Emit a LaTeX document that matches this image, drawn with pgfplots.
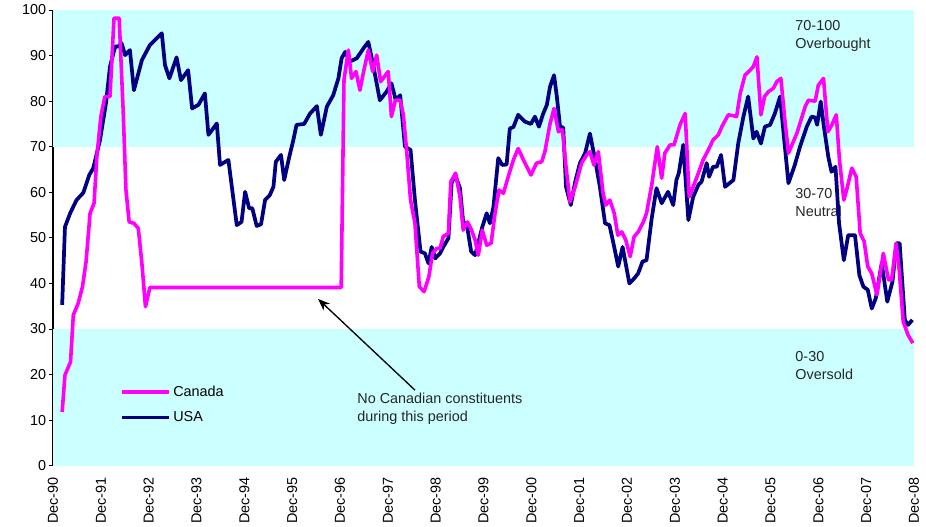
\documentclass[border=0pt]{standalone}
\usepackage{pgfplots}
\pgfplotsset{compat=1.18}
\usepackage{fontspec}
\setmainfont{Liberation Sans}
\usetikzlibrary{arrows.meta}
\definecolor{band}{HTML}{CCFFFF}
\definecolor{canada}{HTML}{FF00FF}
\definecolor{usa}{HTML}{000080}

\begin{document}
\begin{tikzpicture}
\useasboundingbox (-39.75pt,-45.2pt) rectangle (654.75pt,349.3pt);
\begin{axis}[
  at={(0,0)}, anchor=south west,
  scale only axis, width=645.75pt, height=341.8pt,
  xmin=0, xmax=216, ymin=0, ymax=100,
  axis lines*=left,
  x axis line style={draw=black!55, line width=0.8pt},
  y axis line style={draw=black, line width=0.8pt},
  font=\fontsize{10.8}{13.5}\selectfont,
  /pgf/number format/assume math mode=true,
  ytick={0,10,...,100},
  ytick style={draw=black, line width=0.6pt},
  tick align=outside, major tick length=3pt,
  xtick={0,12,...,216},
  xtick style={draw=none},
  xticklabels={Dec-90,Dec-91,Dec-92,Dec-93,Dec-94,Dec-95,Dec-96,Dec-97,Dec-98,Dec-99,Dec-00,Dec-01,Dec-02,Dec-03,Dec-04,Dec-05,Dec-06,Dec-07,Dec-08},
  xticklabel style={rotate=90, anchor=east, inner ysep=1pt, inner xsep=5.5pt},
  yticklabel style={inner sep=2pt},
  legend style={draw=none, fill=none, at={(axis cs:16.8,18.2)}, anchor=north west,
    row sep=6pt, inner sep=0pt, font=\fontsize{10.8}{13.5}\selectfont,
    /tikz/every even column/.append style={column sep=0pt}},
  legend cell align=left,
  reverse legend,
  legend image code/.code={\draw[#1] (0pt,0pt) -- (35pt,0pt);},
]
\fill[band] (axis cs:0,0) rectangle (axis cs:216,30);
\fill[band] (axis cs:0,70) rectangle (axis cs:216,100);

\node[anchor=north west, align=left, inner sep=0pt, text=black!85] at (axis cs:186.2,97.8) {70-100\\Overbought};
\node[anchor=north west, align=left, inner sep=0pt, text=black!85] at (axis cs:186.2,60.9) {30-70\\Neutral};
\node[anchor=north west, align=left, inner sep=0pt, text=black!85] at (axis cs:186.2,25.2) {0-30\\Oversold};
\node[anchor=north west, align=left, inner sep=0pt, text=black!85] at (axis cs:76.3,15.9) {No Canadian constituents\\during this period};
\draw[line width=1pt, -{Stealth[length=9pt, width=7pt]}] (axis cs:90.8,16.6) -- (axis cs:66.5,36.6);

\addplot[usa, line width=2.8pt, line join=round] coordinates {
(2.3,35.3) (3.0,52.4) (4.3,55.4) (5.9,58.3) (7.6,59.9) (9.1,63.8) (10.1,65.3) (11.8,71.5) (13.3,79.6) (14.3,87.6) (15.6,92) (16.4,92) (17.2,92.7) (18.1,90.1) (19.3,91.2) (20.3,82.4) (22.3,89) (24.3,92.3) (27.3,94.9) (28.1,87.9) (29.2,85) (31.0,89.6) (32.1,84.6) (33.9,86.8) (34.9,78.4) (36.5,79.2) (38.1,81.7) (39.0,72.6) (41.1,75.1) (41.9,66) (44.0,67.1) (46.1,52.8) (47.3,53.5) (48.2,60.1) (49.2,56.5) (50.0,56.5) (51.1,52.6) (52.2,53) (53.2,58.3) (54.4,59.4) (55.3,61.2) (55.9,66.7) (57.2,68.2) (58.0,62.7) (59.2,67.5) (60.3,71.5) (61.1,74.8) (63.0,75) (64.5,77.3) (66.2,78.9) (67.2,72.6) (68.7,78.8) (70.3,81.3) (71.6,85) (72.4,89.4) (73.3,90.8) (74.5,88.7) (76.2,89.4) (77.9,91.6) (79.1,93) (80.4,87.6) (82.0,80.2) (83.7,82.1) (84.9,83.9) (86.0,80.2) (87.1,81.3) (88.3,70) (89.7,69.3) (90.8,58.3) (92.2,47) (93.3,46.6) (94.2,44.4) (95.0,48) (95.9,45.5) (97.1,46.6) (97.9,48) (99.2,49.9) (100.0,62) (100.9,63.8) (102.1,60.9) (102.9,53.5) (103.8,53) (104.9,47) (105.9,46.2) (107.1,50.3) (107.7,52.4) (108.8,55.4) (109.6,53.2) (110.5,56.8) (111.7,67.5) (112.7,66) (113.8,66.1) (114.6,74) (115.5,74.3) (116.7,77) (118.4,75.5) (119.9,75) (120.9,76.6) (121.9,74.4) (123.0,77.3) (123.9,79.2) (124.7,83.2) (125.7,85.7) (126.4,81) (127.2,74.4) (128.0,74.2) (128.7,61.2) (129.9,57.2) (131.0,62.3) (132.2,66.4) (133.5,68.6) (134.7,72.9) (136.0,67.1) (137.2,61.2) (138.5,53.2) (139.6,52.8) (140.6,48.8) (141.8,43.7) (142.9,48) (144.6,40) (145.8,41.1) (146.8,42.2) (147.9,44.8) (148.9,45.1) (150.2,54.3) (151.4,60.9) (152.7,57.6) (154.3,60.1) (155.6,57.2) (156.4,62.7) (157.0,64.2) (158.1,70.4) (159.4,53.9) (160.6,59) (161.9,61.6) (162.7,62.3) (164.0,66.4) (164.6,63.4) (165.6,65.6) (166.5,65.6) (167.6,68.2) (168.6,61.2) (170.7,62.7) (171.9,70.7) (173.2,76.6) (174.4,81) (175.7,71.8) (176.5,73.3) (177.6,70.7) (178.6,74.4) (179.9,74.8) (181.1,77.3) (182.4,81) (184.5,62) (186.1,66) (187.4,70) (189.1,74.4) (190.3,76.6) (191.2,76.4) (191.7,74.8) (192.6,79.9) (193.4,74.4) (194.5,67.8) (195.3,64.5) (196.3,65.6) (197.2,53.2) (198.4,45.1) (199.5,50.6) (201.2,50.6) (202.3,41.8) (203.3,39.3) (204.4,38.6) (205.4,34.5) (206.4,36.7) (207.9,44.4) (209.3,36) (210.6,40.4) (211.6,48.8) (212.4,48.8) (213.7,32) (214.5,30.9) (215.6,32)
};
\addlegendentry{USA}
\addplot[canada, line width=2.7pt, line join=round] coordinates {
(2.3,11.8) (3.0,19.9) (4.4,22.8) (5.1,33.1) (6.3,35.6) (7.4,39.3) (8.3,44.8) (9.3,55.4) (10.3,57.6) (11.0,67.8) (12.0,76.6) (13.0,81) (14.3,81) (15.3,98.2) (16.6,98.2) (17.6,78) (18.3,60.5) (19.1,53.5) (20.3,53.2) (21.4,52.1) (22.3,44.4) (23.2,34.9) (24.3,39.1) (72.3,39.1) (73.0,84.6) (74.1,91.2) (74.9,85) (76.0,86.5) (77.0,82.4) (78.0,86.8) (79.1,91.2) (80.2,86.5) (81.2,90.1) (82.2,84.3) (84.1,86.5) (84.9,76.6) (85.9,80.2) (87.1,80.2) (87.9,77) (88.7,69.3) (89.7,58.3) (90.8,53.2) (91.9,39.3) (93.1,38.2) (94.3,41.5) (95.2,46.6) (96.3,47.7) (97.1,47.7) (97.9,50.3) (99.2,51) (99.8,62.3) (101.0,64.2) (102.1,59) (102.9,51.7) (104.0,53.5) (105.0,51.7) (105.9,49.5) (106.7,46.2) (107.7,51.7) (108.8,48.4) (109.9,48.8) (110.9,55.4) (111.9,60.5) (113.0,59.8) (114.2,63.4) (115.5,67.1) (116.7,69.6) (118.4,66.4) (119.9,63.8) (121.3,66.4) (122.6,66.7) (123.4,68.9) (124.7,75.1) (125.7,78.4) (126.8,73.3) (127.8,73.7) (128.7,65.6) (129.7,57.9) (131.0,61.2) (132.6,66.4) (133.9,68.2) (134.7,68.9) (135.7,66) (136.8,68.9) (138.0,59.8) (138.7,57.2) (139.7,58.3) (140.8,55.4) (141.7,50.6) (142.7,51.3) (143.7,49.5) (144.8,45.9) (145.8,50.3) (146.8,51.3) (148.1,53.5) (148.9,55.4) (150.2,61.6) (151.6,70) (152.7,63.1) (153.5,68.6) (154.8,70.4) (155.8,70.4) (157.3,74.8) (158.6,77.3) (159.6,59) (160.6,61.2) (161.9,64.2) (163.1,67.1) (164.4,69.3) (165.6,71.5) (166.9,72.6) (167.8,74.4) (169.4,77) (170.7,76.8) (171.5,76.6) (172.4,81.7) (173.6,85.7) (174.9,86.8) (175.7,87.6) (176.6,89.7) (177.6,77) (178.5,81) (179.5,82.1) (180.7,82.8) (181.6,84.3) (182.6,85) (183.6,75.9) (184.5,68.6) (186.6,72.9) (188.7,78.8) (189.5,80.2) (191.2,80) (192.0,83.5) (193.3,85) (194.4,73.3) (195.4,74.8) (196.5,77) (197.3,67.1) (198.4,58.3) (199.3,61.2) (200.4,65.3) (201.5,63.4) (202.5,51) (203.5,49.2) (204.4,43.7) (205.4,42.2) (206.7,37.5) (208.3,46.6) (209.6,40.8) (210.4,40.8) (211.5,48.8) (212.3,42.9) (213.3,31.6) (214.5,28.7) (215.7,26.9)
};
\addlegendentry{Canada}
\end{axis}
\end{tikzpicture}
\end{document}
